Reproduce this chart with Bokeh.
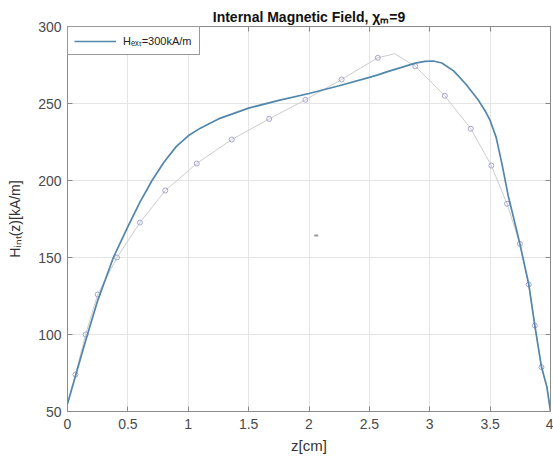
from bokeh.plotting import figure
from bokeh.models import Range1d, LinearAxis, FixedTicker, Legend, LegendItem
from bokeh.embed import file_html
from bokeh.resources import INLINE

# ---------------- data ----------------
z_main = [0, 0.066, 0.15, 0.25, 0.38, 0.5, 0.6, 0.7, 0.8, 0.9, 1.0, 1.1, 1.25, 1.5,
          1.75, 2.0, 2.25, 2.5, 2.57, 2.65, 2.76, 2.88, 2.96, 3.03, 3.1, 3.2, 3.3,
          3.4, 3.46, 3.5, 3.55, 3.6, 3.65, 3.7, 3.746, 3.82, 3.87, 3.925, 3.97, 4.0]
H_main = [55, 73, 96, 122, 150, 170, 186, 200, 212, 222, 229, 234, 240, 247,
          252, 256.5, 261.5, 267, 268.6, 270.7, 273.3, 276.2, 277.3, 277.6, 276.3, 271, 262.5,
          252.5, 245, 239, 228, 210, 190, 174, 159, 132.5, 106, 79, 66, 50]

z_gray = [0, 0.066, 0.15, 0.25, 0.41, 0.6, 0.81, 1.07, 1.36, 1.67, 1.97, 2.27, 2.57,
          2.71, 2.88, 3.125, 3.34, 3.51, 3.64, 3.746, 3.82, 3.87, 3.925, 3.97, 4.0]
H_gray = [55, 74, 100, 126, 150, 172.7, 193.5, 211, 226.6, 240, 252.4, 265.6, 279.7,
          282.3, 274.2, 255, 233.6, 209.7, 184.9, 158.9, 132.5, 105.8, 78.8, 66, 50]

z_mark = [0.066, 0.15, 0.25, 0.41, 0.6, 0.81, 1.07, 1.36, 1.67, 1.97, 2.27, 2.57,
          2.88, 3.125, 3.34, 3.51, 3.64, 3.746, 3.82, 3.87, 3.925]
H_mark = [74, 100, 126, 150, 172.7, 193.5, 211, 226.6, 240, 252.4, 265.6, 279.7,
          274.2, 255, 233.6, 209.7, 184.9, 158.9, 132.5, 105.8, 78.8]

z_stray = [2.06]
H_stray = [164.3]

x_ticks = [0, 0.5, 1, 1.5, 2, 2.5, 3, 3.5, 4]
x_tick_labels = ["0", "0.5", "1", "1.5", "2", "2.5", "3", "3.5", "4"]
y_ticks = [50, 100, 150, 200, 250, 300]
y_tick_labels = ["50", "100", "150", "200", "250", "300"]

title_text = "Internal Magnetic Field, \u03c7\u2098=9"
ylabel_text = "H\u1d62\u2099\u209c(z)[kA/m]"
xlabel_text = "z[cm]"
legend_text = "H\u2091\u2093\u209c=300kA/m"

# ---------------- layout ----------------
W, Hh = 553, 461
L, R, T, B = 67, 3, 26, 50
FONT = "Liberation Sans"

p = figure(width=W, height=Hh, x_range=Range1d(0, 4), y_range=Range1d(50, 300),
           output_backend="svg", toolbar_location=None,
           min_border_left=L, min_border_right=R, min_border_top=T, min_border_bottom=B)
p.background_fill_color = "white"
p.border_fill_color = "white"
p.outline_line_color = "#8a8a8a"

p.title.text = title_text
p.title.align = "center"
p.title.text_font = FONT
p.title.text_font_size = "14px"
p.title.text_font_style = "bold"
p.title.text_color = "#111111"
p.title.standoff = 4

xt = FixedTicker(ticks=x_ticks)
yt = FixedTicker(ticks=y_ticks)

p.xaxis.ticker = xt
p.yaxis.ticker = yt
p.xaxis.major_label_overrides = dict(zip(x_ticks, x_tick_labels))
p.yaxis.major_label_overrides = dict(zip(y_ticks, y_tick_labels))
p.xgrid.ticker = xt
p.ygrid.ticker = yt
p.grid.grid_line_color = "#e4e4e4"
p.grid.grid_line_width = 1

for ax in (p.xaxis[0], p.yaxis[0]):
    ax.axis_line_color = "#8a8a8a"
    ax.major_tick_line_color = "#8a8a8a"
    ax.major_tick_in = 5
    ax.major_tick_out = 0
    ax.minor_tick_line_color = None
    ax.major_label_text_font = FONT
    ax.major_label_text_font_size = "14px"
    ax.major_label_text_color = "#4a4a4a"
    ax.axis_label_text_font = FONT
    ax.axis_label_text_font_style = "normal"
    ax.axis_label_text_color = "#333333"
p.xaxis.major_label_standoff = 7
p.yaxis.major_label_standoff = 6
p.xaxis.axis_label = xlabel_text
p.xaxis.axis_label_text_font_size = "15px"
p.xaxis.axis_label_standoff = 5
p.yaxis.axis_label = ylabel_text
p.yaxis.axis_label_text_font_size = "14px"
p.yaxis.axis_label_standoff = 12

for loc, tk, ticks in (("above", xt, x_ticks), ("right", yt, y_ticks)):
    ax = LinearAxis(ticker=tk, major_tick_in=5, major_tick_out=0,
                    minor_tick_line_color=None, axis_line_color="#8a8a8a",
                    major_tick_line_color="#8a8a8a", major_label_standoff=0,
                    major_label_overrides={t: "" for t in ticks})
    p.add_layout(ax, loc)

# ---------------- data marks ----------------
p.line(z_gray, H_gray, line_color="#cccccc", line_width=1)
p.scatter(z_mark, H_mark, marker="circle", size=5, fill_color=None,
          line_color="#a4a4d6", line_width=1)
p.scatter(z_stray, H_stray, marker="dash", size=4, line_color="#9a9a9a", line_width=2)
main = p.line(z_main, H_main, line_color="#5286ab", line_width=1.7)

# ---------------- legend ----------------
leg = Legend(items=[LegendItem(label=legend_text, renderers=[main])], location="top_left",
             margin=0, padding=6, glyph_width=42, glyph_height=8, label_width=70,
             label_height=8, label_standoff=7, label_text_font=FONT,
             label_text_font_size="11px", label_text_color="#222222",
             border_line_color="#333333", border_line_width=1,
             background_fill_color="white", background_fill_alpha=1.0)
p.add_layout(leg)

open("out.html", "w").write(file_html(p, INLINE))
